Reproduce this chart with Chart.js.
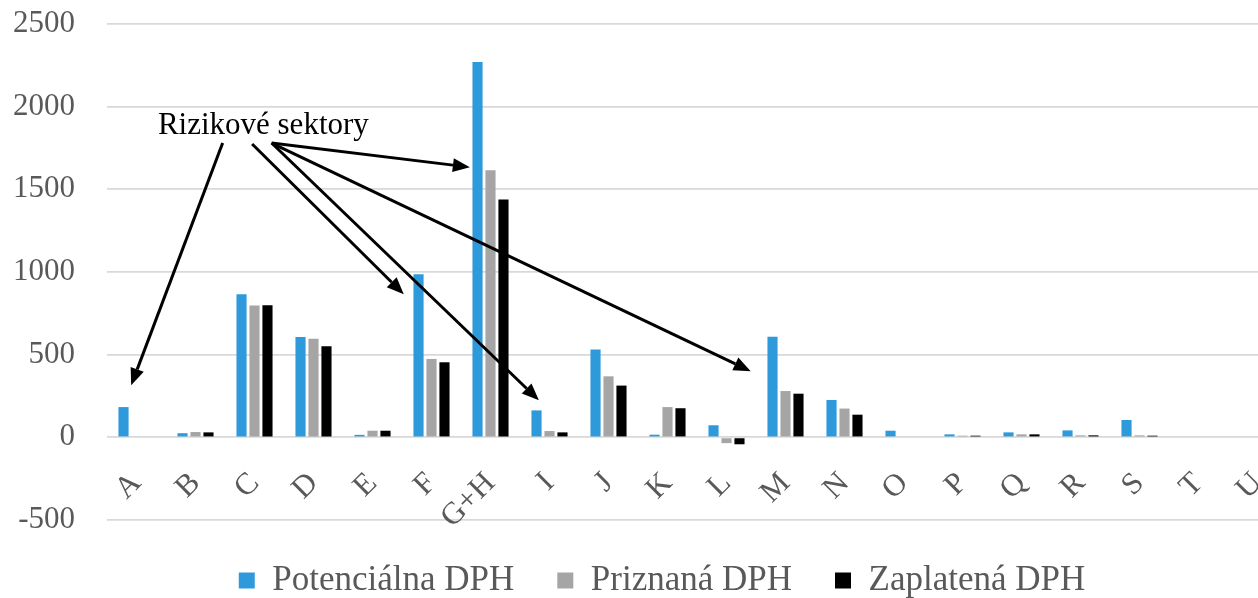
<!DOCTYPE html>
<html>
<head>
<meta charset="utf-8">
<script src="https://cdn.jsdelivr.net/npm/chart.js@4.4.1/dist/chart.umd.min.js"></script>
<style>
    html, body { margin: 0; padding: 0; background: #fff; overflow: hidden; }
    #wrap { width: 1324px; height: 598px; }
</style>
</head>
<body>
<div id="wrap"><canvas id="myChart" width="1324" height="598"></canvas></div>
<script>
const categories = ['A', 'B', 'C', 'D', 'E', 'F', 'G+H', 'I', 'J', 'K', 'L', 'M', 'N', 'O', 'P', 'Q', 'R', 'S', 'T', 'U'];
const potencialna = [183, 25, 866, 607, 15, 987, 2270, 163, 531, 16, 73, 609, 226, 40, 18, 30, 42, 105, 0, 0];
const priznana = [0, 32, 797, 597, 40, 474, 1616, 38, 369, 183, -35, 280, 174, 0, 10, 18, 12, 12, 0, 0];
const zaplatena = [0, 30, 799, 551, 40, 454, 1439, 30, 313, 176, -42, 264, 137, 0, 10, 18, 12, 10, 0, 0];
const seriesNames = ['Potenciálna DPH', 'Priznaná DPH', 'Zaplatená DPH'];
const yMin = -500;
const yMax = 2500;
const yStep = 500;

const noteText = 'Rizikové sektory';

// note anchor and arrows, given as [category index, value]
const noteAt = [2.15, 1885];
const noteArrows = [
    [[1.46, 1780], [-0.09, 315]],
    [[1.96, 1774], [4.53, 866]],
    [[2.29, 1780], [5.65, 1634]],
    [[2.29, 1780], [6.82, 224]],
    [[2.29, 1780], [10.41, 400]]
];

const fontFamily = "'Liberation Serif', 'Times New Roman', serif";
const tickColor = '#595959';

function draw_arrow(ctx, x1, y1, x2, y2) {
    const ang = Math.atan2(y2 - y1, x2 - x1);
    const headLen = 17;
    const headW = 7;
    const bx = x2 - headLen * Math.cos(ang);
    const by = y2 - headLen * Math.sin(ang);
    ctx.beginPath();
    ctx.moveTo(x1, y1);
    ctx.lineTo(bx, by);
    ctx.stroke();
    ctx.beginPath();
    ctx.moveTo(x2, y2);
    ctx.lineTo(bx + headW * Math.sin(ang), by - headW * Math.cos(ang));
    ctx.lineTo(bx - headW * Math.sin(ang), by + headW * Math.cos(ang));
    ctx.closePath();
    ctx.fill();
}

const notePlugin = {
    id: 'notePlugin',
    afterDatasetsDraw(chart) {
        const ctx = chart.ctx;
        const xs = chart.scales.x;
        const ys = chart.scales.y;
        ctx.save();
        ctx.fillStyle = '#000';
        ctx.strokeStyle = '#000';
        ctx.lineWidth = 3;
        ctx.font = '31px ' + fontFamily;
        ctx.textAlign = 'center';
        ctx.textBaseline = 'middle';
        ctx.fillText(noteText, xs.getPixelForValue(noteAt[0]), ys.getPixelForValue(noteAt[1]));
        noteArrows.forEach((a) => {
            draw_arrow(ctx,
                xs.getPixelForValue(a[0][0]), ys.getPixelForValue(a[0][1]),
                xs.getPixelForValue(a[1][0]), ys.getPixelForValue(a[1][1]));
        });
        ctx.restore();
    }
};

const ctx = document.getElementById('myChart');

const barChart = new Chart(ctx, {
    type: 'bar',
    data: {
        labels: categories,
        datasets: [
            { label: seriesNames[0], data: potencialna, backgroundColor: '#2E9ADB' },
            { label: seriesNames[1], data: priznana, backgroundColor: '#A5A5A5' },
            { label: seriesNames[2], data: zaplatena, backgroundColor: '#000000' }
        ]
    },
    options: {
        responsive: false,
        animation: false,
        devicePixelRatio: 1,
        categoryPercentage: 0.66,
        barPercentage: 0.78,
        layout: {
            padding: { top: 24, left: 0, right: 0, bottom: -10 }
        },
        plugins: {
            tooltip: { enabled: false },
            legend: {
                position: 'bottom',
                labels: {
                    boxWidth: 16,
                    boxHeight: 16,
                    padding: 43,
                    color: tickColor,
                    font: { family: fontFamily, size: 35 }
                }
            }
        },
        scales: {
            x: {
                position: { y: 0 },
                grid: { display: false },
                border: { display: false },
                ticks: {
                    autoSkip: false,
                    minRotation: 45,
                    maxRotation: 45,
                    padding: 20,
                    color: tickColor,
                    font: { family: fontFamily, size: 31 }
                }
            },
            y: {
                min: yMin,
                max: yMax,
                afterFit: (scale) => { scale.width = 107; },
                border: { display: false },
                grid: {
                    color: '#D9D9D9',
                    lineWidth: 1.8,
                    drawTicks: true,
                    tickLength: 32,
                    tickColor: 'rgba(0,0,0,0)'
                },
                ticks: {
                    stepSize: yStep,
                    padding: 0,
                    color: tickColor,
                    font: { family: fontFamily, size: 31 },
                    callback: (value) => String(value)
                }
            },
            yR: {
                position: 'right',
                display: true,
                afterFit: (scale) => { scale.width = 37; },
                grid: { display: false },
                border: { display: false },
                ticks: { display: false }
            }
        }
    },
    plugins: [notePlugin]
});
</script>
</body>
</html>
